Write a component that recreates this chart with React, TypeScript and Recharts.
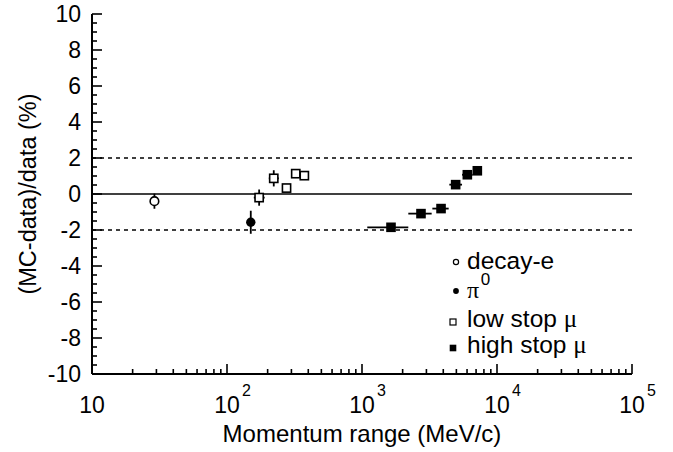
import React from 'react';
import {
  ScatterChart,
  Scatter,
  XAxis,
  YAxis,
  ReferenceLine,
  ErrorBar,
  Legend,
} from 'recharts';

// ---------- data ----------
const decayE = [{ x: 29, y: -0.4, ey: 0.42, ex: 0 }];
const pi0 = [{ x: 150, y: -1.57, ey: 0.64, ex: 0 }];
const lowStopMu = [
  { x: 173, y: -0.2, ey: 0.45, ex: [15, 17] },
  { x: 222, y: 0.87, ey: 0.45, ex: [18, 20] },
  { x: 276, y: 0.33, ey: 0, ex: 0 },
  { x: 323, y: 1.13, ey: 0, ex: 0 },
  { x: 374, y: 1.02, ey: 0, ex: 0 },
];
const highStopMu = [
  { x: 1640, y: -1.85, ey: 0, ex: [546, 563] },
  { x: 2735, y: -1.09, ey: 0, ex: [532, 546] },
  { x: 3850, y: -0.81, ey: 0, ex: [530, 535] },
  { x: 4940, y: 0.52, ey: 0, ex: [505, 568] },
  { x: 6030, y: 1.07, ey: 0, ex: [520, 575] },
  { x: 7150, y: 1.29, ey: 0, ex: 0 },
];

const seriesNames = ['decay-e', 'π0', 'low stop μ', 'high stop μ'];
const xMajorTicks = [10, 100, 1000, 10000, 100000];
const xExponents = ['', '2', '3', '4', '5'];
const yMajorTicks = [10, 8, 6, 4, 2, 0, -2, -4, -6, -8, -10];
const yTickLabels = ['10', '8', '6', '4', '2', '0', '-2', '-4', '-6', '-8', '-10'];
const xTitle = 'Momentum range (MeV/c)';
const yTitle = '(MC-data)/data (%)';
const refDashed = [2, -2];

// tick positions (axis decoration)
const xMinorTicks: number[] = [];
xMajorTicks.slice(0, -1).forEach((d) => {
  for (let k = 2; k <= 9; k++) xMinorTicks.push(d * k);
});
const xAllTicks = [...xMajorTicks, ...xMinorTicks].sort((a, b) => a - b);
const yAllTicks: number[] = [];
for (let v = -10; v <= 10; v += 0.5) yAllTicks.push(v);

const SANS = '"Liberation Sans", Arial, Helvetica, sans-serif';
const SERIF = '"Liberation Serif", "Times New Roman", serif';
const MAJOR = 10;
const MINOR = 5;
const TICK_W = 1.6;

const isXMajor = (v: number) => xMajorTicks.some((m) => Math.abs(m - v) < 1e-6);
const isYMajor = (v: number) => Math.abs(v / 2 - Math.round(v / 2)) < 1e-6;

const XTickBottom = (props: any) => {
  const { x, y, payload } = props;
  const v = payload.value;
  const major = isXMajor(v);
  const idx = xMajorTicks.findIndex((m) => Math.abs(m - v) < 1e-6);
  return (
    <g>
      <line x1={x} x2={x} y1={y} y2={y - (major ? MAJOR : MINOR)} stroke="#000" strokeWidth={TICK_W} />
      {major && (
        <g>
          <text x={x} y={y + 39} textAnchor="middle" fontFamily={SANS} fontSize={23} fill="#000">
            10
          </text>
          {xExponents[idx] && (
            <text x={x + 15} y={y + 22} textAnchor="start" fontFamily={SANS} fontSize={16} fill="#000">
              {xExponents[idx]}
            </text>
          )}
        </g>
      )}
    </g>
  );
};

const XTickTop = (props: any) => {
  const { x, y, payload } = props;
  const major = isXMajor(payload.value);
  return <line x1={x} x2={x} y1={y} y2={y + (major ? MAJOR : MINOR)} stroke="#000" strokeWidth={TICK_W} />;
};

const YTickLeft = (props: any) => {
  const { x, y, payload } = props;
  const v = payload.value;
  const major = isYMajor(v);
  const idx = yMajorTicks.findIndex((m) => Math.abs(m - v) < 1e-6);
  return (
    <g>
      <line x1={x} x2={x + (major ? MAJOR : MINOR)} y1={y} y2={y} stroke="#000" strokeWidth={TICK_W} />
      {major && idx >= 0 && (
        <text x={x - 11} y={y} dy="0.36em" textAnchor="end" fontFamily={SANS} fontSize={23} fill="#000">
          {yTickLabels[idx]}
        </text>
      )}
    </g>
  );
};

const YTickRight = (props: any) => {
  const { x, y, payload } = props;
  const major = isYMajor(payload.value);
  return <line x1={x} x2={x - (major ? MAJOR : MINOR)} y1={y} y2={y} stroke="#000" strokeWidth={TICK_W} />;
};

const XTitle = (props: any) => {
  const { viewBox } = props;
  return (
    <text x={viewBox.x + viewBox.width / 2} y={viewBox.y + 68} textAnchor="middle" fontFamily={SANS} fontSize={24} fill="#000">
      {xTitle}
    </text>
  );
};

const YTitle = (props: any) => {
  const { viewBox } = props;
  const cx = viewBox.x + 28;
  const cy = viewBox.y + viewBox.height / 2;
  return (
    <text x={cx} y={cy} transform={`rotate(-90 ${cx} ${cy})`} dy="0.36em" textAnchor="middle" fontFamily={SANS} fontSize={23.5} fill="#000">
      {yTitle}
    </text>
  );
};

const OpenCircle = (p: any) => <circle cx={p.cx} cy={p.cy} r={4.3} fill="#fff" stroke="#000" strokeWidth={1.6} />;
const FilledCircle = (p: any) => <circle cx={p.cx} cy={p.cy} r={4.7} fill="#000" />;
const OpenSquare = (p: any) => (
  <rect x={p.cx - 4.1} y={p.cy - 4.1} width={8.2} height={8.2} fill="#fff" stroke="#000" strokeWidth={1.6} />
);
const FilledSquare = (p: any) => <rect x={p.cx - 4.8} y={p.cy - 4.8} width={9.6} height={9.6} fill="#000" />;

const LegendIcon = ({ i, x, y }: { i: number; x: number; y: number }) => {
  if (i === 0) return <circle cx={x} cy={y} r={2.6} fill="#fff" stroke="#000" strokeWidth={1.2} />;
  if (i === 1) return <circle cx={x} cy={y} r={2.9} fill="#000" />;
  if (i === 2) return <rect x={x - 3} y={y - 3} width={6} height={6} fill="#fff" stroke="#000" strokeWidth={1.2} />;
  return <rect x={x - 3.3} y={y - 3.3} width={6.6} height={6.6} fill="#000" />;
};

const LegendLabel = ({ name, x, y }: { name: string; x: number; y: number }) => {
  if (name === 'π0') {
    return (
      <text x={x} y={y} fill="#000">
        <tspan fontFamily={SERIF} fontSize={24}>
          π
        </tspan>
        <tspan fontFamily={SANS} fontSize={17} dx={1.5} dy={-13}>
          0
        </tspan>
      </text>
    );
  }
  const hasMu = name.endsWith('μ');
  const base = hasMu ? name.slice(0, -1) : name;
  return (
    <text x={x} y={y} fontFamily={SANS} fontSize={24.5} fill="#000" xmlSpace="preserve">
      {base}
      {hasMu && (
        <tspan fontFamily={SERIF} fontSize={25}>
          μ
        </tspan>
      )}
    </text>
  );
};

const legendBaselines = [24, 53, 82, 108];
const iconDy = [-7, -7, -5, -5];
const iconX = [16, 16, 13, 13];

const LegendContent = () => (
  <svg width={220} height={120} style={{ display: 'block' }}>
    {seriesNames.map((n, i) => (
      <g key={n}>
        <LegendIcon i={i} x={iconX[i]} y={legendBaselines[i] + iconDy[i]} />
        <LegendLabel name={n} x={27} y={legendBaselines[i]} />
      </g>
    ))}
  </svg>
);

export default function App() {
  return (
    <div style={{ position: 'absolute', left: 0, top: 0, width: 673, height: 452, background: '#fff' }}>
      <ScatterChart width={673} height={452} margin={{ top: 14, right: 41, bottom: 0, left: 0 }} style={{ fontFamily: SANS }}>
        <XAxis
          xAxisId="b"
          type="number"
          dataKey="x"
          scale="log"
          domain={[10, 100000]}
          ticks={xAllTicks}
          interval={0}
          orientation="bottom"
          height={78}
          axisLine={{ stroke: '#000', strokeWidth: 2 }}
          tickLine={false}
          tickSize={0}
          tickMargin={0}
          tick={<XTickBottom />}
          allowDataOverflow
          label={<XTitle />}
        />
        <XAxis
          xAxisId="t"
          type="number"
          dataKey="x"
          scale="log"
          domain={[10, 100000]}
          ticks={xAllTicks}
          interval={0}
          orientation="top"
          height={0}
          axisLine={{ stroke: '#000', strokeWidth: 2 }}
          tickLine={false}
          tickSize={0}
          tickMargin={0}
          tick={<XTickTop />}
          allowDataOverflow
        />
        <YAxis
          yAxisId="l"
          type="number"
          dataKey="y"
          domain={[-10, 10]}
          ticks={yAllTicks}
          interval={0}
          orientation="left"
          width={92}
          axisLine={{ stroke: '#000', strokeWidth: 2 }}
          tickLine={false}
          tickSize={0}
          tickMargin={0}
          tick={<YTickLeft />}
          allowDataOverflow
          label={<YTitle />}
        />
        <YAxis
          yAxisId="r"
          type="number"
          dataKey="y"
          domain={[-10, 10]}
          ticks={yAllTicks}
          interval={0}
          orientation="right"
          width={0}
          axisLine={{ stroke: '#000', strokeWidth: 2 }}
          tickLine={false}
          tickSize={0}
          tickMargin={0}
          tick={<YTickRight />}
          allowDataOverflow
        />
        <ReferenceLine xAxisId="b" yAxisId="l" y={0} stroke="#000" strokeWidth={1.6} />
        {refDashed.map((v) => (
          <ReferenceLine key={v} xAxisId="b" yAxisId="l" y={v} stroke="#000" strokeWidth={1.6} strokeDasharray="4 4" />
        ))}
        <Scatter name={seriesNames[0]} data={decayE} xAxisId="b" yAxisId="l" shape={<OpenCircle />} isAnimationActive={false}>
          <ErrorBar dataKey="ey" direction="y" width={0} stroke="#000" strokeWidth={1.8} />
        </Scatter>
        <Scatter name={seriesNames[1]} data={pi0} xAxisId="b" yAxisId="l" shape={<FilledCircle />} isAnimationActive={false}>
          <ErrorBar dataKey="ey" direction="y" width={0} stroke="#000" strokeWidth={1.8} />
        </Scatter>
        <Scatter name={seriesNames[2]} data={lowStopMu} xAxisId="b" yAxisId="l" shape={<OpenSquare />} isAnimationActive={false}>
          <ErrorBar dataKey="ey" direction="y" width={0} stroke="#000" strokeWidth={1.8} />
          <ErrorBar dataKey="ex" direction="x" width={0} stroke="#000" strokeWidth={1.8} />
        </Scatter>
        <Scatter name={seriesNames[3]} data={highStopMu} xAxisId="b" yAxisId="l" shape={<FilledSquare />} isAnimationActive={false}>
          <ErrorBar dataKey="ex" direction="x" width={0} stroke="#000" strokeWidth={1.8} />
        </Scatter>
        <Legend
          layout="horizontal"
          verticalAlign="middle"
          align="center"
          content={<LegendContent />}
          wrapperStyle={{ position: 'absolute', left: 440, top: 245, width: 220, height: 120 }}
        />
      </ScatterChart>
    </div>
  );
}
